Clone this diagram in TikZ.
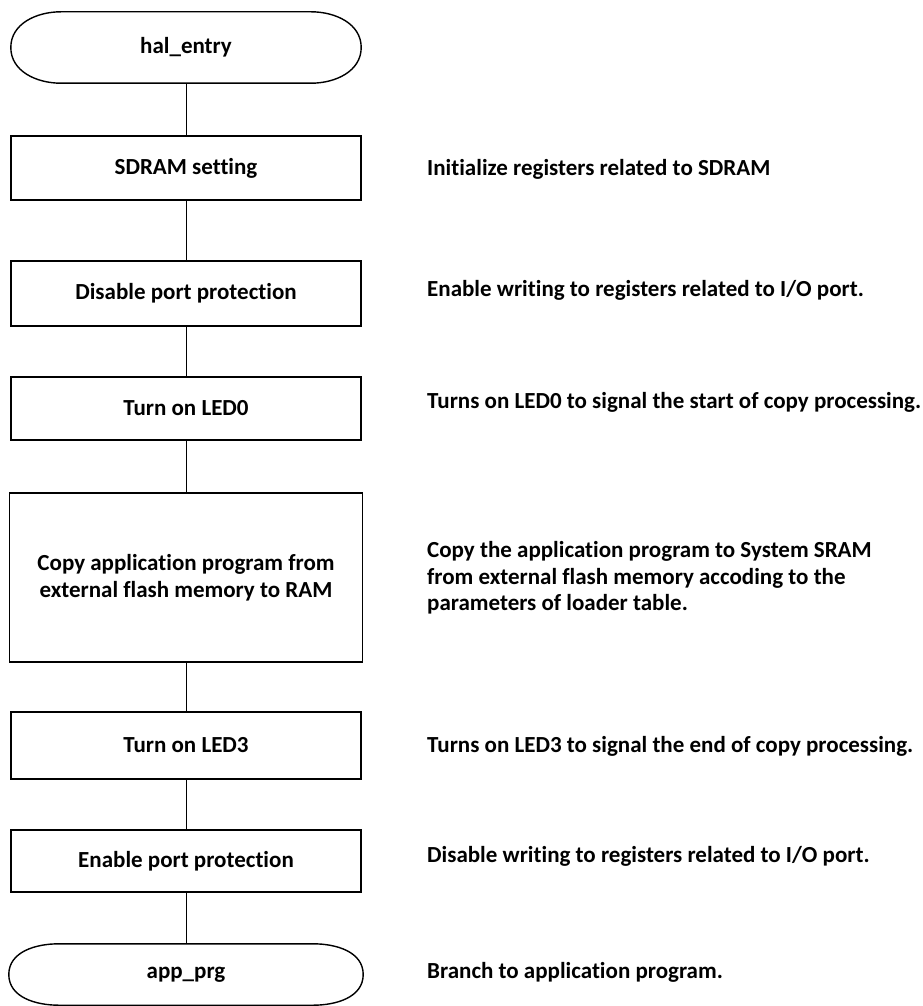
\documentclass[tikz,border=0pt]{standalone}
\usepackage{fontspec}
\setmainfont{Carlito}[Ligatures=NoCommon]
\begin{document}
\begin{tikzpicture}[x=1pt,y=-1pt,
  every node/.style={font=\bfseries\fontsize{23}{26.5}\selectfont},
  process/.style={draw, line width=1.4pt, minimum width=350pt, inner sep=0pt, align=center},
  terminal/.style={inner sep=0pt, minimum width=350pt},
  note/.style={anchor=west, inner sep=0pt, align=left},
  link/.style={line width=0.8pt}]
\useasboundingbox (0,0) rectangle (923,1006);

% flow steps
\node[terminal, minimum height=71pt] (start) at (186,47.5) {hal\_entry};
\node[process, minimum height=64pt] (sdram) at (186,168) {SDRAM setting};
\node[process, minimum height=65pt] (unprot) at (186,293.5) {Disable port protection};
\node[process, minimum height=63pt] (led0) at (186,408.5) {Turn on LED0};
\node[process, minimum height=169pt, minimum width=353pt] (copy) at (186,577.5)
  {Copy application program from\\external flash memory to RAM};
\node[process, minimum height=67pt] (led3) at (186,745.5) {Turn on LED3};
\node[process, minimum height=62pt] (prot) at (186,861) {Enable port protection};
\node[terminal, minimum height=61pt, minimum width=354pt] (stop) at (186,974.5) {app\_prg};

% stadium outlines of the two terminals
\foreach \t in {start,stop}{
  \draw[line width=1.4pt]
    ([xshift=50pt]\t.north west) -- ([xshift=-50pt]\t.north east)
    to[out=0,in=90] (\t.east) to[out=-90,in=0] ([xshift=-50pt]\t.south east)
    -- ([xshift=50pt]\t.south west)
    to[out=180,in=-90] (\t.west) to[out=90,in=180] ([xshift=50pt]\t.north west) -- cycle;
}

% connectors
\draw[link] (start.south) -- (sdram.north);
\draw[link] (sdram.south) -- (unprot.north);
\draw[link] (unprot.south) -- (led0.north);
\draw[link] (led0.south) -- (copy.north);
\draw[link] (copy.south) -- (led3.north);
\draw[link] (led3.south) -- (prot.north);
\draw[link] (prot.south) -- (stop.north);

% explanations
\node[note] (d1) at (427,169) {Initialize registers related to SDRAM};
\node[note] (d2) at (427,290) {Enable writing to registers related to I/O port.};
\node[note] (d3) at (427,402) {Turns on LED0 to signal the start of copy processing.};
\node[note] (d4) at (427,578) {Copy the application program to System SRAM\\from external flash memory accoding to the\\parameters of loader table.};
\node[note] (d5) at (427,746) {Turns on LED3 to signal the end of copy processing.};
\node[note] (d6) at (427,856) {Disable writing to registers related to I/O port.};
\node[note] (d7) at (427,972) {Branch to application program.};
\end{tikzpicture}
\end{document}
